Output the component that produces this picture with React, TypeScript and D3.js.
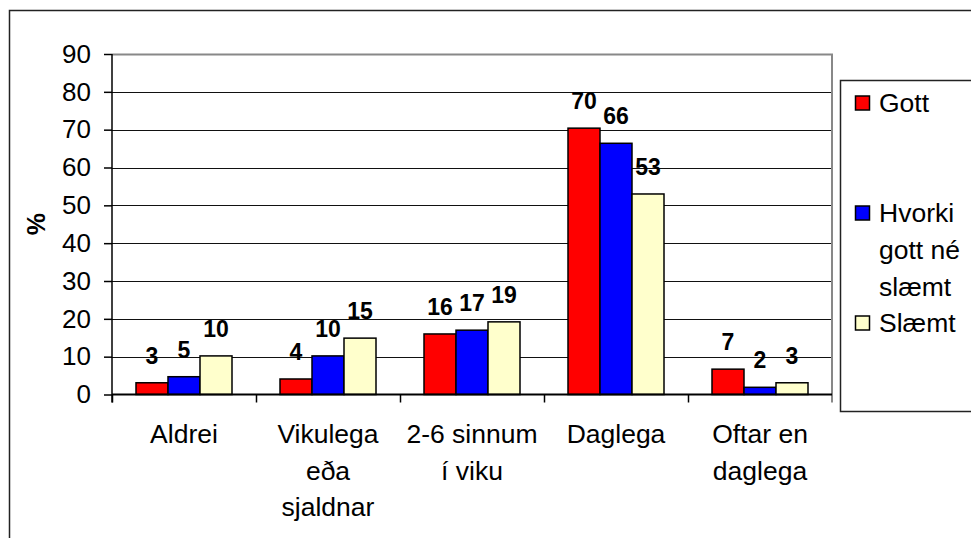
import { useEffect, useRef } from 'react';
import * as d3 from 'd3';

const categories = ['Aldrei', 'Vikulega eða sjaldnar', '2-6 sinnum í viku', 'Daglega', 'Oftar en daglega'];
const categoryLines = [['Aldrei'], ['Vikulega', 'eða', 'sjaldnar'], ['2-6 sinnum', 'í viku'], ['Daglega'], ['Oftar en', 'daglega']];

const seriesNames = ['Gott', 'Hvorki gott né slæmt', 'Slæmt'];
const legendLines = [['Gott'], ['Hvorki', 'gott né', 'slæmt'], ['Slæmt']];
const seriesColors = ['#ff0000', '#0000ff', '#ffffcc'];

const gott = [3.1, 4.1, 16, 70.4, 6.7];
const hvorki = [4.7, 10.2, 17, 66.4, 1.9];
const slaemt = [10.2, 14.9, 19.2, 53, 3.1];

const yTicks = [0, 10, 20, 30, 40, 50, 60, 70, 80, 90];

const FONT = '"Liberation Sans", Arial, sans-serif';

const App = () => {
  const svgRef = useRef<SVGSVGElement | null>(null);
  const width = 971;
  const height = 538;

  useEffect(() => {
    const svg = d3.select(svgRef.current);
    svg.selectAll('*').remove();

    const plot = { left: 112, top: 54, right: 832, bottom: 394.5 };
    const values = [gott, hvorki, slaemt];

    // outer chart frame
    svg.append('rect')
      .attr('x', 9.5).attr('y', 10.5)
      .attr('width', 1000).attr('height', 600)
      .attr('fill', '#fff')
      .attr('stroke', '#222')
      .attr('stroke-width', 1.5);

    const x = d3.scaleBand().domain(categories).range([plot.left, plot.right]).padding(0);
    const xInner = d3.scaleBand().domain(seriesNames).range([0, x.bandwidth()])
      .paddingInner(0).paddingOuter(0.75);
    const y = d3.scaleLinear().domain([0, 90]).range([plot.bottom, plot.top]);

    // gridlines
    svg.append('g')
      .selectAll('line')
      .data(yTicks.filter(t => t > 0 && t < 90))
      .enter()
      .append('line')
      .attr('x1', plot.left).attr('x2', plot.right)
      .attr('y1', d => Math.round(y(d)) + 0.5).attr('y2', d => Math.round(y(d)) + 0.5)
      .attr('stroke', '#111')
      .attr('stroke-width', 1);

    // plot area border (top + right)
    svg.append('path')
      .attr('d', `M${plot.left},${plot.top + 0.5}H${plot.right}V${plot.bottom + 8}`)
      .attr('fill', 'none')
      .attr('stroke', '#888')
      .attr('stroke-width', 2);

    // bars
    values.forEach((vals, si) => {
      svg.append('g')
        .selectAll('rect')
        .data(vals)
        .enter()
        .append('rect')
        .attr('x', (d, i) => (x(categories[i]) as number) + (xInner(seriesNames[si]) as number))
        .attr('width', xInner.bandwidth())
        .attr('y', d => y(d))
        .attr('height', d => plot.bottom - y(d))
        .attr('fill', seriesColors[si])
        .attr('stroke', '#000')
        .attr('stroke-width', 1.5);

      svg.append('g')
        .selectAll('text')
        .data(vals)
        .enter()
        .append('text')
        .attr('x', (d, i) => (x(categories[i]) as number) + (xInner(seriesNames[si]) as number) + xInner.bandwidth() / 2)
        .attr('y', d => y(d) - 19)
        .attr('text-anchor', 'middle')
        .style('font-family', FONT)
        .style('font-weight', 'bold')
        .style('font-size', '23px')
        .style('fill', '#000')
        .text(d => Math.round(d));
    });

    // y axis
    const yAxis = svg.append('g')
      .attr('transform', `translate(${plot.left},0)`)
      .call(d3.axisLeft(y).tickValues(yTicks).tickSize(8).tickPadding(13).tickSizeOuter(0));
    yAxis.select('.domain').remove();
    yAxis.append('line')
      .attr('x1', 0).attr('x2', 0)
      .attr('y1', plot.top).attr('y2', plot.bottom + 8)
      .attr('stroke', '#000').attr('stroke-width', 1.5);
    yAxis.selectAll('.tick line').attr('stroke', '#000').attr('stroke-width', 1.5);
    yAxis.selectAll('text')
      .style('font-family', FONT)
      .style('font-size', '26px')
      .style('fill', '#000');

    // x axis
    svg.append('line')
      .attr('x1', plot.left).attr('x2', plot.right)
      .attr('y1', plot.bottom).attr('y2', plot.bottom)
      .attr('stroke', '#000').attr('stroke-width', 2);
    svg.append('g')
      .selectAll('line')
      .data(categories)
      .enter()
      .append('line')
      .attr('x1', d => (x(d) as number) + 0.5).attr('x2', d => (x(d) as number) + 0.5)
      .attr('y1', plot.bottom).attr('y2', plot.bottom + 8)
      .attr('stroke', '#000').attr('stroke-width', 1.5);

    // category labels
    const cat = svg.append('g')
      .selectAll('text')
      .data(categories)
      .enter()
      .append('text')
      .attr('x', d => (x(d) as number) + x.bandwidth() / 2)
      .attr('y', 443)
      .attr('text-anchor', 'middle')
      .style('font-family', FONT)
      .style('font-size', '26.5px')
      .style('fill', '#000');
    cat.each(function (d, i) {
      const t = d3.select(this);
      categoryLines[i].forEach((line, li) => {
        t.append('tspan')
          .attr('x', (x(d) as number) + x.bandwidth() / 2)
          .attr('dy', li === 0 ? 0 : 36.5)
          .text(line);
      });
    });

    // y axis title
    svg.append('text')
      .attr('transform', `translate(45,${(plot.top + plot.bottom) / 2}) rotate(-90)`)
      .attr('text-anchor', 'middle')
      .style('font-family', FONT)
      .style('font-weight', 'bold')
      .style('font-size', '25px')
      .style('fill', '#000')
      .text('%');

    // legend
    svg.append('rect')
      .attr('x', 840.5).attr('y', 80.5)
      .attr('width', 200).attr('height', 331)
      .attr('fill', '#fff')
      .attr('stroke', '#222')
      .attr('stroke-width', 1.5);

    const legendY = [111.5, 221.5, 331.5];
    seriesNames.forEach((name, si) => {
      svg.append('rect')
        .attr('x', 855.5).attr('y', legendY[si] - 15.5)
        .attr('width', 14).attr('height', 14)
        .attr('fill', seriesColors[si])
        .attr('stroke', '#000')
        .attr('stroke-width', 1.5);
      const t = svg.append('text')
        .attr('x', 879)
        .attr('y', legendY[si])
        .style('font-family', FONT)
        .style('font-size', '26.5px')
        .style('fill', '#000');
      legendLines[si].forEach((line, li) => {
        t.append('tspan')
          .attr('x', 879)
          .attr('dy', li === 0 ? 0 : 37)
          .text(line);
      });
    });
  }, []);

  return (
    <svg
      ref={svgRef}
      width={width}
      height={height}
      style={{ position: 'absolute', left: 0, top: 0, background: '#fff' }}
    />
  );
};

export default App;
